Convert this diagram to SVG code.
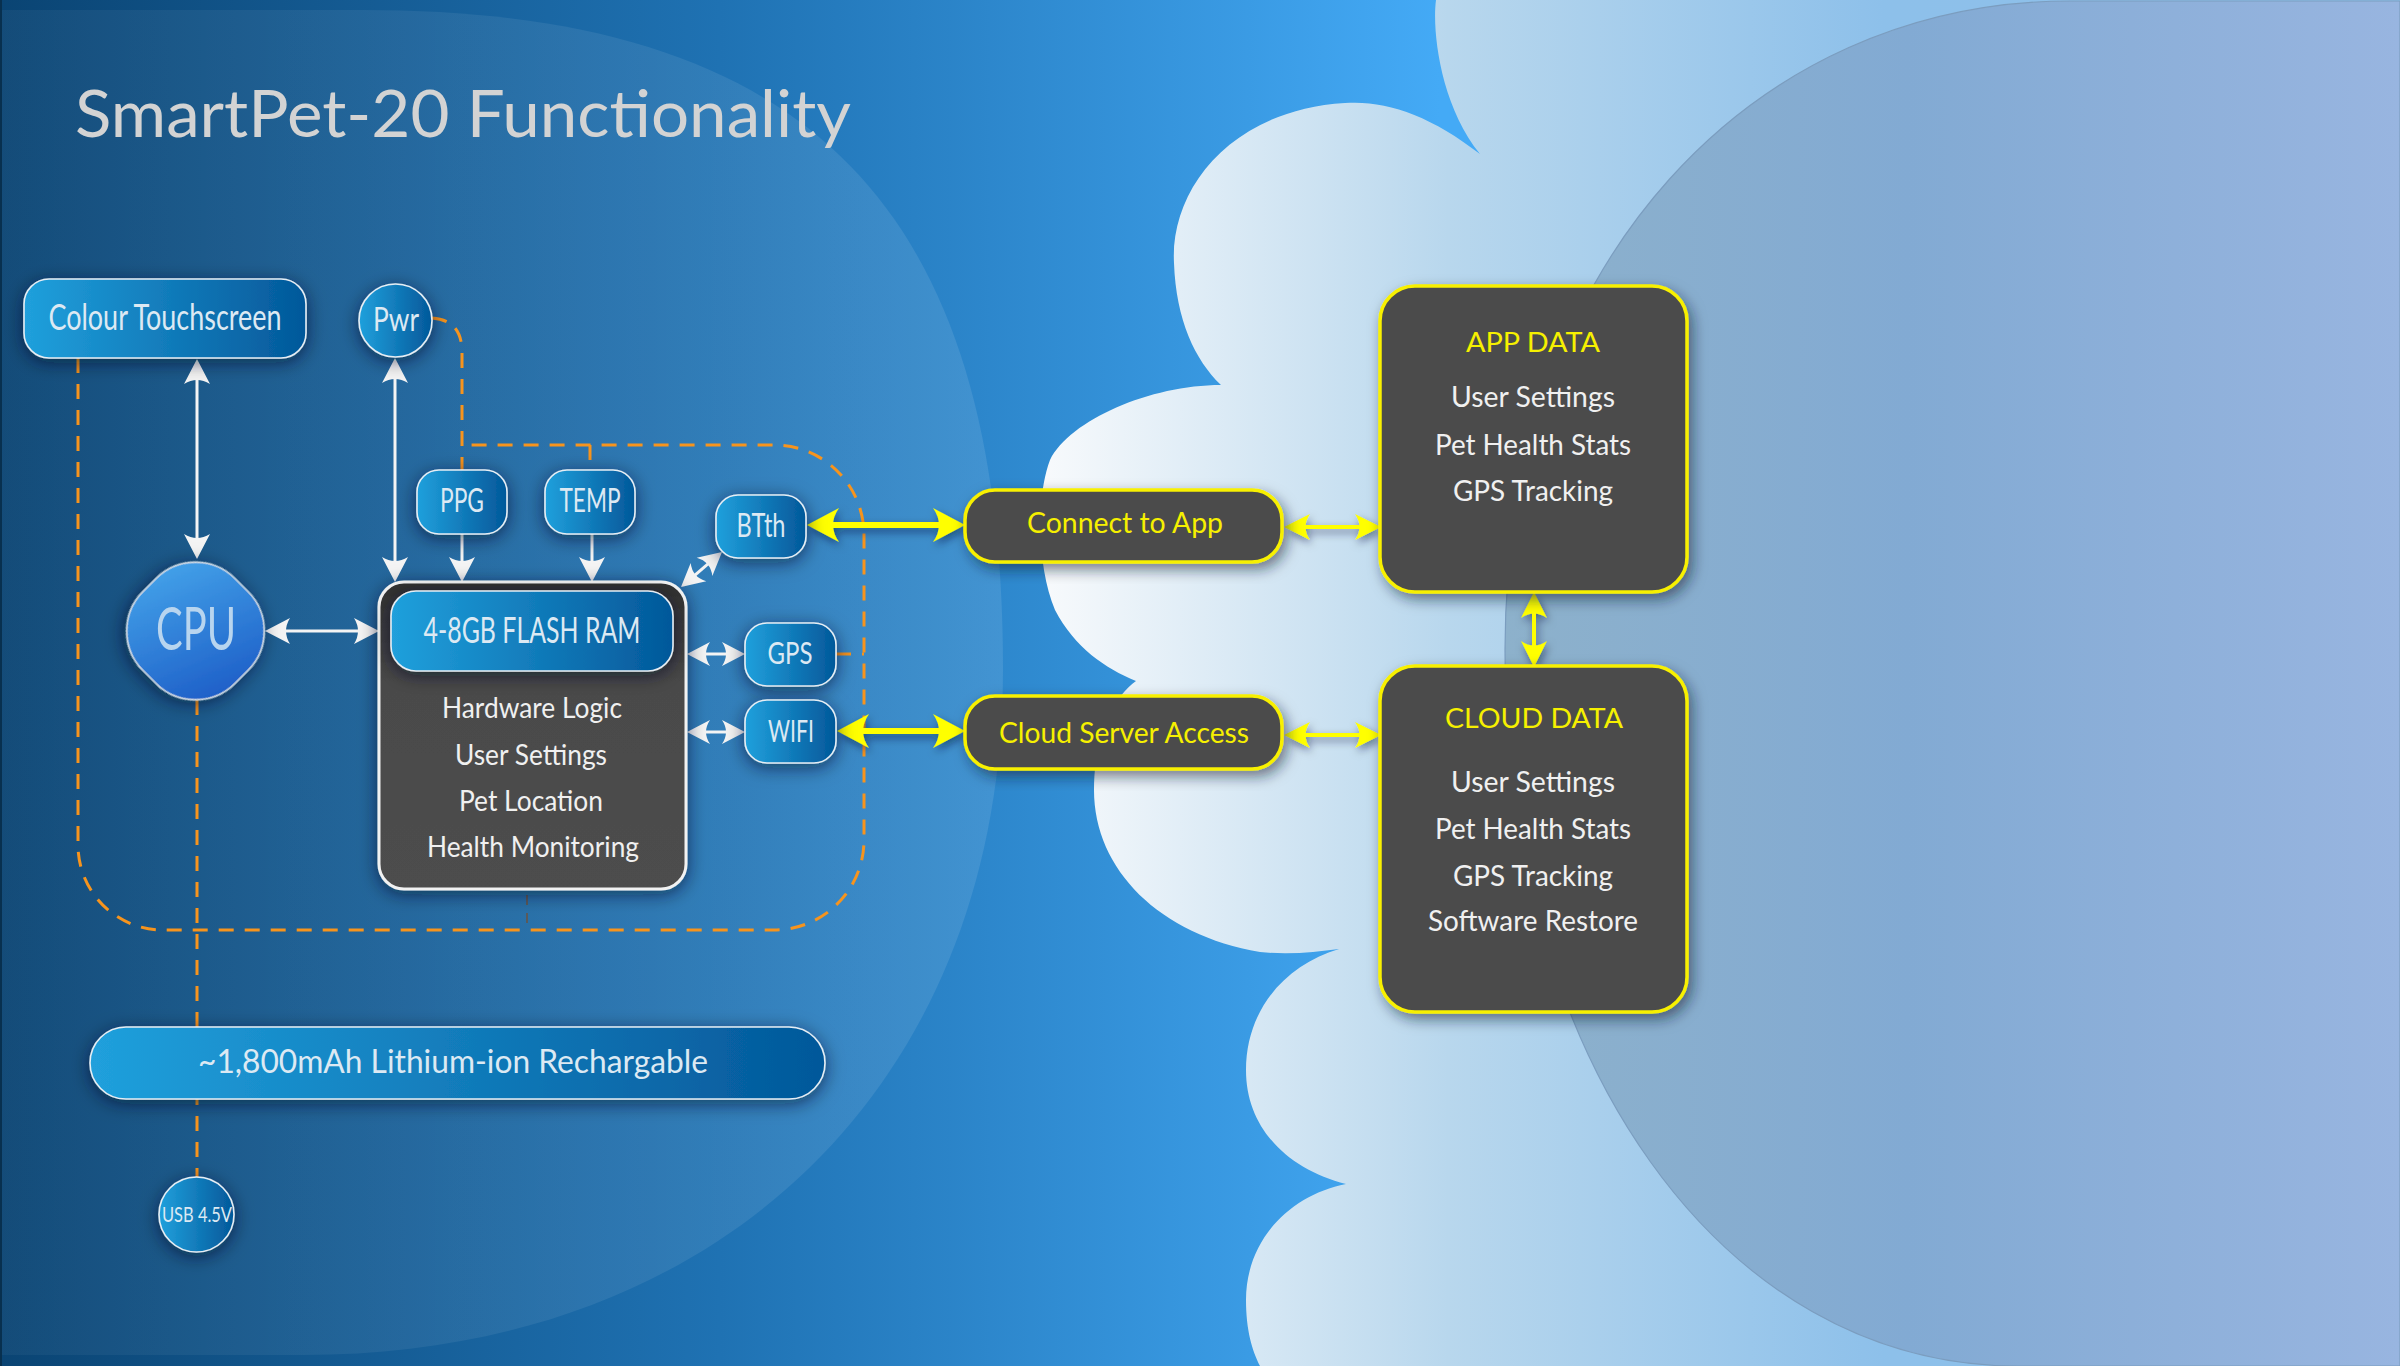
<svg xmlns="http://www.w3.org/2000/svg" width="2400" height="1366" viewBox="0 0 2400 1366">
<defs>
<style>
text{font-family:Lato,"Open Sans","Noto Sans",sans-serif;}
.lbl{fill:#dce9f3;text-anchor:middle;}
.lst{fill:#f0f0f0;text-anchor:middle;font-size:28px;}
.ylw{fill:#f6f000;text-anchor:middle;}
.bn{fill:url(#gBlue);stroke:#e6eef5;stroke-width:1.6;filter:url(#sh);}
.yb{fill:#4b4b4b;stroke:#f8f000;stroke-width:3.5;filter:url(#sh2);}
.dash{fill:none;stroke:#f7941d;stroke-width:3;stroke-dasharray:15 11;}
.wa{fill:none;stroke:#f4f4f4;stroke-width:3;}
.ya{fill:none;stroke:#ffff00;}
</style>
<linearGradient id="gBg" x1="0" y1="0" x2="1440" y2="0" gradientUnits="userSpaceOnUse">
<stop offset="0" stop-color="#0a4473"/><stop offset="0.5" stop-color="#1f72b3"/><stop offset="1" stop-color="#44aaf6"/>
</linearGradient>
<linearGradient id="gOv" x1="0" y1="0" x2="1003" y2="0" gradientUnits="userSpaceOnUse">
<stop offset="0" stop-color="#ffffff" stop-opacity="0.04"/><stop offset="1" stop-color="#ffffff" stop-opacity="0.1"/>
</linearGradient>
<linearGradient id="gCloud" x1="1040" y1="0" x2="2400" y2="0" gradientUnits="userSpaceOnUse">
<stop offset="0" stop-color="#f8fafc"/><stop offset="0.3" stop-color="#b8d7ed"/><stop offset="0.62" stop-color="#8dc0ea"/><stop offset="1" stop-color="#8fc0ea"/>
</linearGradient>
<linearGradient id="gRight" x1="1505" y1="0" x2="2400" y2="0" gradientUnits="userSpaceOnUse">
<stop offset="0" stop-color="#8db1cb"/><stop offset="0.45" stop-color="#82aad3"/><stop offset="1" stop-color="#98b5e0"/>
</linearGradient>
<linearGradient id="gBlue" x1="0" y1="0" x2="1" y2="0">
<stop offset="0" stop-color="#20a0dc"/><stop offset="1" stop-color="#03589a"/>
</linearGradient>
<linearGradient id="gCpu" x1="0" y1="0.3" x2="1" y2="0.7">
<stop offset="0" stop-color="#42a0e8"/><stop offset="1" stop-color="#1e5fc8"/>
</linearGradient>
<linearGradient id="gRam" x1="0" y1="0" x2="0" y2="1">
<stop offset="0" stop-color="#303030"/><stop offset="0.35" stop-color="#4a4a4a"/><stop offset="1" stop-color="#4d4d4d"/>
</linearGradient>
<filter id="sh" x="-40%" y="-40%" width="180%" height="180%">
<feDropShadow dx="0" dy="4" stdDeviation="9" flood-color="#001428" flood-opacity="0.6"/>
</filter>
<filter id="sh2" x="-30%" y="-30%" width="160%" height="160%">
<feDropShadow dx="4" dy="6" stdDeviation="7" flood-color="#0a1e30" flood-opacity="0.55"/>
</filter>
<filter id="sh3" filterUnits="userSpaceOnUse" x="0" y="0" width="2400" height="1366">
<feDropShadow dx="2" dy="4" stdDeviation="4" flood-color="#001830" flood-opacity="0.5"/>
</filter>
<marker id="aw" markerUnits="userSpaceOnUse" orient="auto-start-reverse" overflow="visible" markerWidth="10" markerHeight="10">
<path d="M6,0 L-19,-13 Q-11,0 -19,13 Z" fill="#f4f4f4"/>
</marker>
<marker id="aws" markerUnits="userSpaceOnUse" orient="auto-start-reverse" overflow="visible" markerWidth="10" markerHeight="10">
<path d="M5,0 L-18,-12 Q-10,0 -18,12 Z" fill="#f4f4f4"/>
</marker>
<marker id="ayb" markerUnits="userSpaceOnUse" orient="auto-start-reverse" overflow="visible" markerWidth="10" markerHeight="10">
<path d="M6,0 L-26,-17 Q-14,0 -26,17 Z" fill="#ffff00"/>
</marker>
<marker id="ays" markerUnits="userSpaceOnUse" orient="auto-start-reverse" overflow="visible" markerWidth="10" markerHeight="10">
<path d="M5,0 L-21,-13 Q-12,0 -21,13 Z" fill="#ffff00"/>
</marker>
</defs>

<g id="background">
<rect x="0" y="0" width="2400" height="1366" fill="url(#gBg)"/>
<path d="M0,10 H363 C811,10 1003,208 1003,670 C1003,1081 723,1355 303,1355 H0 Z" fill="url(#gOv)"/>
<path d="M1436,0 C1432,30 1440,105 1480,154 C1430,115 1385,100 1345,103 C1230,110 1170,190 1174,263 C1176,320 1195,360 1221,385 C1150,385 1070,420 1050,460 C1035,500 1038,570 1055,610 C1075,648 1105,668 1136,681 C1110,700 1094,740 1094,790 C1094,870 1160,935 1260,952 C1290,955 1315,952 1339,949 C1285,965 1246,1010 1246,1070 C1246,1130 1290,1170 1346,1184 C1290,1195 1246,1240 1246,1300 C1246,1330 1252,1350 1260,1366 L2400,1366 L2400,0 Z" fill="url(#gCloud)"/>
<path d="M2400,1 H2070 C1755,1 1505,260 1505,650 C1505,1060 1722,1366 2017,1366 H2400 Z" fill="url(#gRight)" stroke="#7b9dbf" stroke-width="1.2"/>
<rect x="0" y="0" width="2" height="1366" fill="#08304f"/>
</g>

<text id="title" x="75" y="137" font-size="66" fill="#d3d3d3" textLength="776" lengthAdjust="spacingAndGlyphs">SmartPet-20 Functionality</text>

<g id="connectors">
<path class="dash" d="M78,358 V845 A85,85 0 0 0 163,930 H774 A90,90 0 0 0 864,840 V535 A90,90 0 0 0 774,445 H462"/>
<path class="dash" d="M432,318 Q462,320 462,352 V470"/>
<path class="dash" d="M590,445 V470"/>
<path class="dash" d="M836,654 H864"/>
<path class="dash" d="M197,700 V1177"/>
<path d="M527,895 V931" fill="none" stroke="#5a5a5a" stroke-width="2" stroke-dasharray="10 8"/>
<path class="wa" d="M197,365 V553" marker-start="url(#aw)" marker-end="url(#aw)"/>
<path class="wa" d="M395,364 V576" marker-start="url(#aw)" marker-end="url(#aw)"/>
<path class="wa" d="M462,534 V576" marker-end="url(#aw)"/>
<path class="wa" d="M592,534 V576" marker-end="url(#aw)"/>
<path class="wa" d="M271,631 H373" marker-start="url(#aw)" marker-end="url(#aw)"/>
<path class="wa" d="M684.8,583.8 L718.2,555.2" marker-start="url(#aws)" marker-end="url(#aws)"/>
<path class="wa" d="M692,654 H740" marker-start="url(#aws)" marker-end="url(#aws)"/>
<path class="wa" d="M692,732 H740" marker-start="url(#aws)" marker-end="url(#aws)"/>
<g filter="url(#sh3)">
<path class="ya" stroke-width="6" d="M813,525 H959" marker-start="url(#ayb)" marker-end="url(#ayb)"/>
<path class="ya" stroke-width="6" d="M843,731 H959" marker-start="url(#ayb)" marker-end="url(#ayb)"/>
<path class="ya" stroke-width="4" d="M1289,527 H1376" marker-start="url(#ays)" marker-end="url(#ays)"/>
<path class="ya" stroke-width="4" d="M1289,735 H1376" marker-start="url(#ays)" marker-end="url(#ays)"/>
<path class="ya" stroke-width="4" d="M1534,597 V662" marker-start="url(#ays)" marker-end="url(#ays)"/>
</g>
</g>

<g id="node-touchscreen">
<rect class="bn" x="24" y="279" width="282" height="79" rx="25"/>
<text class="lbl" x="165" y="330" font-size="36" textLength="233" lengthAdjust="spacingAndGlyphs">Colour Touchscreen</text>
</g>
<g id="node-pwr">
<circle class="bn" cx="395.5" cy="320.5" r="36.5"/>
<text class="lbl" x="396" y="331" font-size="32" textLength="46" lengthAdjust="spacingAndGlyphs">Pwr</text>
</g>
<g id="node-cpu">
<rect x="-65" y="-65" width="130" height="130" rx="56" transform="translate(195.5 631) rotate(45)" fill="url(#gCpu)" stroke="#d0dae4" stroke-width="1.6" filter="url(#sh)"/>
<text x="196" y="650" font-size="60" fill="#b8d5ef" text-anchor="middle" textLength="80" lengthAdjust="spacingAndGlyphs">CPU</text>
</g>
<g id="node-ppg">
<rect class="bn" x="417" y="470" width="90" height="64" rx="22"/>
<text class="lbl" x="462" y="512" font-size="32" textLength="44" lengthAdjust="spacingAndGlyphs">PPG</text>
</g>
<g id="node-temp">
<rect class="bn" x="545" y="470" width="90" height="64" rx="22"/>
<text class="lbl" x="590" y="512" font-size="32" textLength="61" lengthAdjust="spacingAndGlyphs">TEMP</text>
</g>
<g id="node-btth">
<rect class="bn" x="716" y="495" width="90" height="63" rx="22"/>
<text class="lbl" x="761" y="537" font-size="33" textLength="49" lengthAdjust="spacingAndGlyphs">BTth</text>
</g>
<g id="node-gps">
<rect class="bn" x="745" y="623" width="91" height="63" rx="22"/>
<text class="lbl" x="790" y="664" font-size="31" textLength="45" lengthAdjust="spacingAndGlyphs">GPS</text>
</g>
<g id="node-wifi">
<rect class="bn" x="745" y="700" width="91" height="63" rx="22"/>
<text class="lbl" x="791" y="742" font-size="31" textLength="46" lengthAdjust="spacingAndGlyphs">WIFI</text>
</g>
<g id="node-ram">
<rect x="379" y="582" width="307" height="307" rx="25" fill="url(#gRam)" stroke="#f2f2f2" stroke-width="3" filter="url(#sh)"/>
<rect class="bn" x="391" y="591" width="282" height="80" rx="25"/>
<text class="lbl" x="532" y="643" font-size="36" textLength="217" lengthAdjust="spacingAndGlyphs">4-8GB FLASH RAM</text>
<text class="lst" x="532" y="718" font-size="27" textLength="180" lengthAdjust="spacingAndGlyphs">Hardware Logic</text>
<text class="lst" x="531" y="765" font-size="27" textLength="152" lengthAdjust="spacingAndGlyphs">User Settings</text>
<text class="lst" x="531" y="811" font-size="27" textLength="144" lengthAdjust="spacingAndGlyphs">Pet Location</text>
<text class="lst" x="533" y="857" font-size="27" textLength="212" lengthAdjust="spacingAndGlyphs">Health Monitoring</text>
</g>
<g id="node-battery">
<rect class="bn" x="90" y="1027" width="735" height="72" rx="36"/>
<text class="lbl" x="453" y="1073" font-size="33" fill="#eef4f8" textLength="510" lengthAdjust="spacingAndGlyphs">~1,800mAh Lithium-ion Rechargable</text>
</g>
<g id="node-usb">
<circle class="bn" cx="196.5" cy="1214.5" r="37.5"/>
<text class="lbl" x="197" y="1222" font-size="21" textLength="70" lengthAdjust="spacingAndGlyphs">USB 4.5V</text>
</g>
<g id="node-connect">
<rect class="yb" x="965" y="490" width="317" height="72" rx="30"/>
<text class="ylw" x="1125" y="533" font-size="29" textLength="196" lengthAdjust="spacingAndGlyphs">Connect to App</text>
</g>
<g id="node-cloudserver">
<rect class="yb" x="965" y="696" width="317" height="73" rx="30"/>
<text class="ylw" x="1124" y="743" font-size="29" textLength="250" lengthAdjust="spacingAndGlyphs">Cloud Server Access</text>
</g>
<g id="node-appdata">
<rect class="yb" x="1380" y="286" width="307" height="306" rx="35"/>
<text class="ylw" x="1533" y="352" font-size="27" textLength="134" lengthAdjust="spacingAndGlyphs">APP DATA</text>
<text class="lst" x="1533" y="407" textLength="164" lengthAdjust="spacingAndGlyphs">User Settings</text>
<text class="lst" x="1533" y="455" textLength="196" lengthAdjust="spacingAndGlyphs">Pet Health Stats</text>
<text class="lst" x="1533" y="501" textLength="160" lengthAdjust="spacingAndGlyphs">GPS Tracking</text>
</g>
<g id="node-clouddata">
<rect class="yb" x="1380" y="666" width="307" height="346" rx="35"/>
<text class="ylw" x="1534" y="728" font-size="27" textLength="178" lengthAdjust="spacingAndGlyphs">CLOUD DATA</text>
<text class="lst" x="1533" y="792" textLength="164" lengthAdjust="spacingAndGlyphs">User Settings</text>
<text class="lst" x="1533" y="839" textLength="196" lengthAdjust="spacingAndGlyphs">Pet Health Stats</text>
<text class="lst" x="1533" y="886" textLength="160" lengthAdjust="spacingAndGlyphs">GPS Tracking</text>
<text class="lst" x="1533" y="931" textLength="210" lengthAdjust="spacingAndGlyphs">Software Restore</text>
</g>
</svg>
